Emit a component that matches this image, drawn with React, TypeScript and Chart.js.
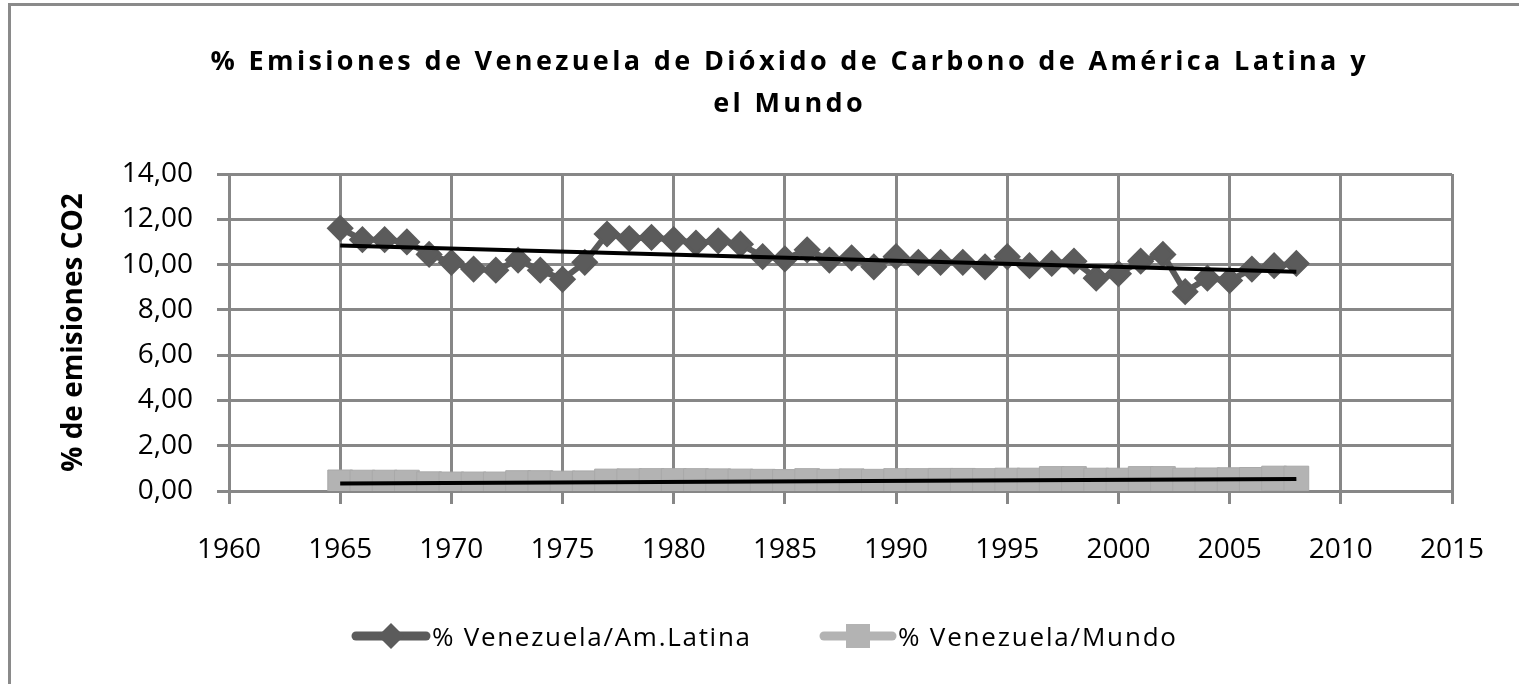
import React, { useEffect, useRef } from 'react';
import { Chart, registerables } from 'chart.js';

Chart.register(...registerables);

const years = [
  1965, 1966, 1967, 1968, 1969, 1970, 1971, 1972, 1973, 1974,
  1975, 1976, 1977, 1978, 1979, 1980, 1981, 1982, 1983, 1984,
  1985, 1986, 1987, 1988, 1989, 1990, 1991, 1992, 1993, 1994,
  1995, 1996, 1997, 1998, 1999, 2000, 2001, 2002, 2003, 2004,
  2005, 2006, 2007, 2008,
];

const venLatam = [
  11.6, 11.1, 11.1, 11.0, 10.45, 10.1, 9.8, 9.75, 10.2, 9.75,
  9.35, 10.1, 11.35, 11.15, 11.2, 11.1, 10.95, 11.05, 10.9, 10.35,
  10.25, 10.65, 10.2, 10.3, 9.9, 10.35, 10.1, 10.1, 10.1, 9.9,
  10.35, 9.95, 10.05, 10.15, 9.4, 9.6, 10.15, 10.45, 8.8, 9.4,
  9.3, 9.8, 9.95, 10.05,
];

const venMundo = [
  0.38, 0.37, 0.37, 0.37, 0.3, 0.29, 0.29, 0.29, 0.35, 0.35,
  0.33, 0.34, 0.42, 0.43, 0.44, 0.44, 0.44, 0.43, 0.42, 0.41,
  0.4, 0.44, 0.41, 0.43, 0.41, 0.44, 0.44, 0.45, 0.45, 0.44,
  0.46, 0.46, 0.53, 0.53, 0.46, 0.46, 0.53, 0.53, 0.46, 0.47,
  0.48, 0.49, 0.55, 0.55,
];

const seriesNames = ['% Venezuela/Am.Latina', '% Venezuela/Mundo'];
const titleLines = [
  '% Emisiones de Venezuela de Dióxido de Carbono de América Latina y',
  'el Mundo',
];
const yAxisTitle = '% de emisiones CO2';
const yTickLabels = ['0,00', '2,00', '4,00', '6,00', '8,00', '10,00', '12,00', '14,00'];
const xTickLabels = ['1960', '1965', '1970', '1975', '1980', '1985', '1990', '1995', '2000', '2005', '2010', '2015'];

const DARK = '#5b5b5b';
const LIGHT = '#b3b3b3';
const GRID = '#878787';
const FONT = '"Open Sans", sans-serif';

function trend(xs: number[], ys: number[]) {
  const n = xs.length;
  const mx = xs.reduce((a, b) => a + b, 0) / n;
  const my = ys.reduce((a, b) => a + b, 0) / n;
  let sxy = 0;
  let sxx = 0;
  for (let i = 0; i < n; i++) {
    sxy += (xs[i] - mx) * (ys[i] - my);
    sxx += (xs[i] - mx) * (xs[i] - mx);
  }
  const b = sxy / sxx;
  const a = my - b * mx;
  const x0 = xs[0];
  const x1 = xs[n - 1];
  return [
    { x: x0, y: a + b * x0 },
    { x: x1, y: a + b * x1 },
  ];
}

function spacedText(ctx: any, text: string, left: number, baseline: number, width: number) {
  ctx.save();
  ctx.letterSpacing = '0px';
  const base = ctx.measureText(text).width;
  const ls = Math.max(0, (width - base) / (text.length - 1));
  ctx.letterSpacing = ls + 'px';
  ctx.fillText(text, left, baseline);
  ctx.restore();
}

const framePlugin = {
  id: 'frame',
  afterDraw(chart: any) {
    const ctx = chart.ctx;
    ctx.save();
    ctx.strokeStyle = '#8a8a8a';
    ctx.lineWidth = 3;
    ctx.strokeRect(9.5, 4.5, 1600, 800);
    ctx.restore();
  },
};

const titlePlugin = {
  id: 'customTitle',
  afterDraw(chart: any) {
    const ctx = chart.ctx;
    ctx.save();
    ctx.font = 'bold 27px ' + FONT;
    ctx.fillStyle = '#000';
    ctx.textAlign = 'left';
    ctx.textBaseline = 'alphabetic';
    const base = ctx.measureText(titleLines[0]).width;
    const ls = Math.max(0, (1155 - base) / (titleLines[0].length - 1));
    ctx.letterSpacing = ls + 'px';
    titleLines.forEach((line, i) => {
      const w = ctx.measureText(line).width - ls;
      ctx.fillText(line, 788 - w / 2, 70 + i * 42);
    });
    ctx.restore();
  },
};

const legendPlugin = {
  id: 'customLegend',
  afterDraw(chart: any) {
    const ctx = chart.ctx;
    ctx.save();
    const cy = 636;
    // entry 1: line with diamond
    ctx.strokeStyle = DARK;
    ctx.lineWidth = 9;
    ctx.lineCap = 'round';
    ctx.beginPath();
    ctx.moveTo(356, cy);
    ctx.lineTo(426, cy);
    ctx.stroke();
    ctx.fillStyle = DARK;
    ctx.beginPath();
    ctx.moveTo(391, cy - 13);
    ctx.lineTo(404, cy);
    ctx.lineTo(391, cy + 13);
    ctx.lineTo(378, cy);
    ctx.closePath();
    ctx.fill();
    // entry 2: line with square
    ctx.strokeStyle = LIGHT;
    ctx.beginPath();
    ctx.moveTo(824, cy);
    ctx.lineTo(892, cy);
    ctx.stroke();
    ctx.fillStyle = LIGHT;
    ctx.fillRect(846, cy - 12, 24, 24);
    // texts
    ctx.fillStyle = '#000';
    ctx.font = '26px ' + FONT;
    ctx.textAlign = 'left';
    ctx.textBaseline = 'alphabetic';
    spacedText(ctx, seriesNames[0], 432, cy + 10, 318);
    spacedText(ctx, seriesNames[1], 898, cy + 10, 278);
    ctx.restore();
  },
};

export default function App() {
  const ref = useRef<HTMLCanvasElement | null>(null);

  useEffect(() => {
    const canvas = ref.current;
    if (!canvas) return;
    const latPts = years.map((x, i) => ({ x, y: venLatam[i] }));
    const munPts = years.map((x, i) => ({ x, y: venMundo[i] }));
    const chart = new Chart(canvas, {
      type: 'scatter',
      data: {
        datasets: [
          {
            label: 'trend1',
            data: trend(years, venLatam),
            showLine: true,
            borderColor: '#000',
            borderWidth: 4,
            pointRadius: 0,
          },
          {
            label: 'trend2',
            data: trend(years, venMundo),
            showLine: true,
            borderColor: '#000',
            borderWidth: 4,
            pointRadius: 0,
          },
          {
            label: seriesNames[0],
            data: latPts,
            showLine: true,
            borderColor: DARK,
            backgroundColor: DARK,
            borderWidth: 6,
            pointStyle: 'rectRot',
            pointRadius: 11.5,
            pointBorderWidth: 3,
            pointBorderColor: DARK,
            pointBackgroundColor: DARK,
          },
          {
            label: seriesNames[1],
            data: munPts,
            showLine: true,
            borderColor: LIGHT,
            backgroundColor: LIGHT,
            borderWidth: 6,
            pointStyle: 'rect',
            pointRadius: 17.5,
            pointBorderWidth: 1,
            pointBorderColor: '#a9a9a9',
            pointBackgroundColor: LIGHT,
          },
        ],
      },
      options: {
        responsive: false,
        animation: false,
        layout: { padding: { top: 174, right: 67, bottom: 0, left: 0 } },
        plugins: {
          legend: { display: false },
          tooltip: { enabled: false },
          title: { display: false },
        },
        scales: {
          x: {
            type: 'linear',
            min: 1960,
            max: 2015,
            ticks: {
              stepSize: 5,
              autoSkip: false,
              maxRotation: 0,
              padding: 29,
              color: '#000',
              font: { family: FONT, size: 28 },
              callback: (v: any) => xTickLabels[Math.round((Number(v) - 1960) / 5)] ?? '',
            },
            grid: { color: GRID, lineWidth: 3, tickLength: 13 },
            border: { color: GRID, width: 3 },
            afterFit: (s: any) => {
              s.height = 684 - 491;
            },
          },
          y: {
            min: 0,
            max: 14,
            ticks: {
              stepSize: 2,
              padding: 24,
              color: '#000',
              font: { family: FONT, size: 28 },
              callback: (v: any) => yTickLabels[Math.round(Number(v) / 2)] ?? '',
            },
            grid: { color: GRID, lineWidth: 3, tickLength: 12 },
            border: { color: GRID, width: 3 },
            title: {
              display: true,
              text: yAxisTitle,
              color: '#000',
              font: { family: FONT, size: 28, weight: 'bold' },
              padding: { top: 57, bottom: 0 },
            },
            afterFit: (s: any) => {
              s.width = 229;
            },
          },
        },
      } as any,
      plugins: [framePlugin, titlePlugin, legendPlugin],
    });
    return () => chart.destroy();
  }, []);

  return (
    <div style={{ position: 'absolute', left: 0, top: 0, width: 1519, height: 684, background: '#fff' }}>
      <canvas ref={ref} width={1519} height={684} style={{ display: 'block' }} />
    </div>
  );
}
